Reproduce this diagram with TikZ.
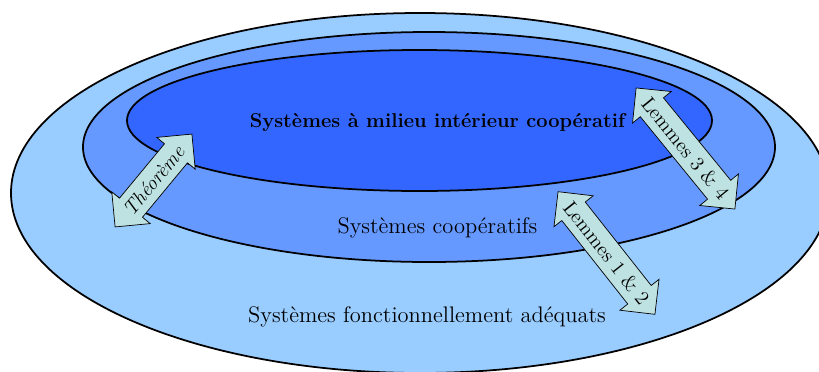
\documentclass[tikz,border=0pt]{standalone}
\usetikzlibrary{shapes.arrows}
\definecolor{bleuclair}{RGB}{153,204,255}
\definecolor{bleumoyen}{RGB}{102,153,255}
\definecolor{bleufonce}{RGB}{51,102,255}
\definecolor{fondfleche}{RGB}{190,226,226}
\tikzset{
	ensemble/.style={draw=black, line width=1pt},
	lien/.style={draw=black, fill=fondfleche, line width=0.4pt, double arrow, double arrow head extend=2mm,
		inner xsep=0pt, inner ysep=4.3pt, text height=8pt, text depth=0pt, font=\fontsize{11.5}{13}\selectfont},
	titre/.style={font=\fontsize{12.8}{15}\selectfont},
}

\begin{document}
\begin{tikzpicture}[x=0.2mm, y=-0.2mm]
			%%%%% START %%%%%
			\useasboundingbox (0, 0) rectangle (819, 371);
			\clip (0, 0) rectangle (819, 371);
			
			\draw[ensemble, fill=bleuclair] (420, 193) ellipse [x radius=409, y radius=180];
			\draw[ensemble, fill=bleumoyen] (429, 147) ellipse [x radius=346, y radius=115];
			\draw[ensemble, fill=bleufonce] (419.5, 120.5) ellipse [x radius=292.5, y radius=70.5];
			
			\node[font=\bfseries\fontsize{11.4}{14}\selectfont] (interieur) at (437.5, 122) {Systèmes à milieu intérieur coopératif};
			\node[titre] (cooperatifs) at (437.5, 228) {Systèmes coopératifs};
			\node[titre] (adequats) at (427, 317) {Systèmes fonctionnellement adéquats};
			
			\node[lien, rotate=50.4, minimum height=24.1mm] (theoreme) at (153.5, 180.5) {\itshape Théorème};
			\node[lien, rotate=-50.8, minimum height=25.0mm] (lemmesb) at (685.5, 148.5) {Lemmes 3 \& 4};
			\node[lien, rotate=-51.7, minimum height=25.5mm] (lemmesa) at (606.5, 253) {Lemmes 1 \& 2};
			
			%%%%% END %%%%%
\end{tikzpicture}
\end{document}
